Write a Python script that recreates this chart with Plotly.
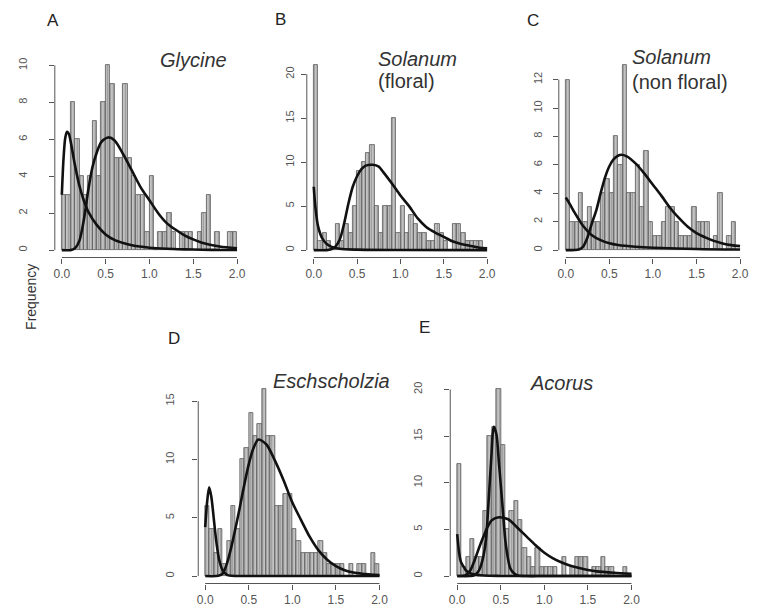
import numpy as np
import plotly.graph_objects as go

W, H = 761, 614          # target page size
OFF = 8                  # browser default body margin
FW, FH = W - OFF, H - OFF

# ---------------- data ----------------
bin_width = 0.05
n_bins = 40
x_tick_vals = [0.0, 0.5, 1.0, 1.5, 2.0]
x_tick_labels = ["0.0", "0.5", "1.0", "1.5", "2.0"]

glycine_counts = [3, 3, 8, 6, 4, 3, 4, 7, 4, 8, 10, 9, 5, 5, 9, 5, 4, 3, 3, 1,
                  4, 0, 1, 1, 2, 1, 0, 1, 1, 1, 0, 1, 2, 3, 0, 1, 0, 0, 1, 1]
solanum_floral_counts = [21, 1, 2, 1, 0, 3, 1, 3, 2, 5, 9, 10, 11, 12, 5, 2, 5, 5, 15, 2,
                         5, 2, 4, 3, 2, 2, 1, 1, 3, 2, 1, 0, 3, 3, 2, 1, 1, 1, 1, 0]
solanum_nonfloral_counts = [12, 2, 2, 4, 2, 3, 2, 2, 4, 5, 4, 8, 6, 13, 4, 4, 6, 3, 7, 2,
                            1, 1, 2, 3, 3, 2, 1, 1, 1, 3, 2, 2, 2, 0, 1, 4, 0, 1, 2, 0]
eschscholzia_counts = [6, 4, 2, 4, 1, 3, 6, 4, 10, 11, 14, 12, 13, 16, 12, 12, 6, 6, 7, 7,
                       4, 3, 2, 2, 2, 2, 3, 2, 1, 1, 1, 1, 0, 1, 0, 1, 1, 0, 2, 1]
acorus_counts = [12, 1, 2, 4, 2, 2, 7, 15, 16, 20, 14, 5, 7, 8, 6, 3, 2, 1, 3, 1,
                 1, 1, 1, 0, 2, 0, 1, 2, 2, 2, 0, 1, 1, 2, 1, 1, 0, 0, 1, 0]

# fitted density curves
glycine_c1_x = [0, 0.02, 0.04, 0.06, 0.08, 0.1, 0.15, 0.2, 0.25, 0.3, 0.4, 0.5, 0.6, 0.7, 0.8, 1.0, 1.2, 1.4, 1.6, 1.8, 2.0]
glycine_c1_y = [3.0, 5.0, 6.1, 6.4, 6.3, 5.9, 4.6, 3.5, 2.7, 2.1, 1.35, 0.85, 0.55, 0.38, 0.26, 0.13, 0.07, 0.04, 0.02, 0.01, 0.01]
glycine_c2_x = [0, 0.1, 0.15, 0.2, 0.25, 0.3, 0.35, 0.4, 0.45, 0.53, 0.6, 0.7, 0.8, 0.9, 1.0, 1.1, 1.2, 1.3, 1.4, 1.5, 1.6, 1.8, 2.0]
glycine_c2_y = [0, 0, 0.1, 0.5, 1.6, 3.2, 4.5, 5.3, 5.85, 6.1, 5.95, 5.2, 4.3, 3.4, 2.7, 2.0, 1.45, 1.1, 0.8, 0.58, 0.4, 0.2, 0.1]

floral_c1_x = [0, 0.02, 0.05, 0.1, 0.15, 0.2, 0.3, 0.5, 1.0, 2.0]
floral_c1_y = [7.2, 4.8, 2.7, 1.3, 0.7, 0.4, 0.15, 0.05, 0.01, 0]
floral_c2_x = [0, 0.15, 0.2, 0.25, 0.3, 0.35, 0.4, 0.45, 0.5, 0.55, 0.6, 0.68, 0.75, 0.8, 0.9, 1.0, 1.1, 1.2, 1.3, 1.4, 1.5, 1.6, 1.7, 1.8, 1.9, 2.0]
floral_c2_y = [0, 0, 0.1, 0.4, 1.2, 3.0, 5.3, 7.2, 8.4, 9.2, 9.6, 9.7, 9.5, 8.9, 7.6, 6.2, 5.0, 3.6, 2.6, 2.0, 1.5, 1.0, 0.7, 0.5, 0.3, 0.2]

nonfloral_c1_x = [0, 0.05, 0.1, 0.15, 0.2, 0.3, 0.4, 0.5, 0.6, 0.8, 1.0, 1.5, 2.0]
nonfloral_c1_y = [3.7, 3.2, 2.65, 2.15, 1.7, 1.05, 0.7, 0.48, 0.36, 0.24, 0.17, 0.08, 0.04]
nonfloral_c2_x = [0, 0.15, 0.2, 0.25, 0.3, 0.35, 0.4, 0.45, 0.5, 0.55, 0.62, 0.7, 0.8, 0.9, 1.0, 1.1, 1.2, 1.3, 1.4, 1.5, 1.6, 1.7, 1.8, 1.9, 2.0]
nonfloral_c2_y = [0, 0.05, 0.25, 0.9, 1.9, 2.8, 4.0, 5.1, 5.9, 6.4, 6.7, 6.6, 6.1, 5.4, 4.6, 3.8, 2.95, 2.25, 1.65, 1.2, 0.9, 0.65, 0.47, 0.35, 0.28]

esch_c1_x = [0, 0.02, 0.045, 0.07, 0.1, 0.13, 0.16, 0.2, 0.25, 0.3, 0.5, 1.0, 2.0]
esch_c1_y = [4.2, 6.2, 7.6, 6.8, 4.8, 2.8, 1.4, 0.5, 0.1, 0.02, 0, 0, 0]
esch_c2_x = [0, 0.15, 0.2, 0.25, 0.3, 0.35, 0.4, 0.45, 0.5, 0.55, 0.61, 0.7, 0.8, 0.9, 1.0, 1.1, 1.2, 1.3, 1.4, 1.5, 1.6, 1.7, 1.8, 2.0]
esch_c2_y = [0, 0.02, 0.2, 1.1, 2.5, 4.2, 6.0, 7.9, 9.6, 10.9, 11.7, 11.3, 9.9, 8.2, 6.3, 4.8, 3.35, 2.2, 1.4, 0.85, 0.5, 0.3, 0.2, 0.08]

acorus_c1_x = [0, 0.01, 0.02, 0.04, 0.06, 0.08, 0.1, 0.15, 0.2, 0.3, 0.5, 1.0, 2.0]
acorus_c1_y = [4.5, 3.5, 2.6, 1.6, 1.2, 0.9, 0.6, 0.3, 0.15, 0.05, 0.01, 0, 0]
acorus_c2_x = [0, 0.15, 0.2, 0.25, 0.29, 0.33, 0.36, 0.39, 0.42, 0.45, 0.48, 0.52, 0.55, 0.58, 0.61, 0.65, 0.7, 0.8, 1.0, 2.0]
acorus_c2_y = [0, 0, 0.1, 0.6, 1.7, 3.9, 8.0, 12.5, 16.0, 15.2, 12.0, 7.5, 4.0, 2.0, 0.8, 0.3, 0.05, 0, 0, 0]
acorus_c3_x = [0, 0.1, 0.15, 0.2, 0.25, 0.3, 0.35, 0.4, 0.48, 0.55, 0.6, 0.7, 0.8, 0.9, 1.0, 1.1, 1.2, 1.3, 1.4, 1.5, 1.6, 1.8, 2.0]
acorus_c3_y = [0, 0.1, 0.6, 1.7, 3.0, 4.2, 5.3, 6.0, 6.3, 6.2, 6.0, 5.1, 4.2, 3.3, 2.5, 1.9, 1.45, 1.1, 0.85, 0.65, 0.5, 0.35, 0.25]

panels = [
    dict(letter="A", counts=glycine_counts,
         curves=[(glycine_c1_x, glycine_c1_y), (glycine_c2_x, glycine_c2_y)],
         yticks=[0, 2, 4, 6, 8, 10], box=(54, 244, 58, 257.5), standoff=17,
         letter_pos=(52, 20)),
    dict(letter="B", counts=solanum_floral_counts,
         curves=[(floral_c1_x, floral_c1_y), (floral_c2_x, floral_c2_y)],
         yticks=[0, 5, 10, 15, 20], box=(307, 495, 58, 257.5), standoff=2,
         letter_pos=(281, 19)),
    dict(letter="C", counts=solanum_nonfloral_counts,
         curves=[(nonfloral_c1_x, nonfloral_c1_y), (nonfloral_c2_x, nonfloral_c2_y)],
         yticks=[0, 2, 4, 6, 8, 10, 12], box=(560, 749, 58, 257.5), standoff=6,
         letter_pos=(534, 20)),
    dict(letter="D", counts=eschscholzia_counts,
         curves=[(esch_c1_x, esch_c1_y), (esch_c2_x, esch_c2_y)],
         yticks=[0, 5, 10, 15], box=(198, 387, 382, 583.5), standoff=14,
         letter_pos=(174, 338)),
    dict(letter="E", counts=acorus_counts,
         curves=[(acorus_c1_x, acorus_c1_y), (acorus_c2_x, acorus_c2_y), (acorus_c3_x, acorus_c3_y)],
         yticks=[0, 5, 10, 15, 20], box=(451, 640, 382, 583.5), standoff=18,
         letter_pos=(425, 327)),
]

FONT = "Liberation Sans, Arial, sans-serif"
bin_centers = np.arange(n_bins) * bin_width + bin_width / 2


def px(x):
    return (x - OFF) / FW


def py(y):
    return 1 - (y - OFF) / FH


fig = go.Figure()
layout = dict(width=FW, height=FH, margin=dict(l=0, r=0, t=0, b=0),
              paper_bgcolor="white", plot_bgcolor="white", showlegend=False,
              bargap=0, font=dict(family=FONT, color="#333"))
shapes = []
annotations = []

for i, p in enumerate(panels):
    n = i + 1
    xa = "x" if n == 1 else f"x{n}"
    ya = "y" if n == 1 else f"y{n}"
    xkey = "xaxis" if n == 1 else f"xaxis{n}"
    ykey = "yaxis" if n == 1 else f"yaxis{n}"
    ymax = max(p["counts"])
    x0, x1, yt, yb = p["box"]

    fig.add_trace(go.Bar(
        x=bin_centers, y=p["counts"], width=bin_width, xaxis=xa, yaxis=ya,
        marker=dict(color="#c6c6c6", line=dict(color="#5a5a5a", width=0.8),
                    pattern=dict(shape="|", fgcolor="#6a6a6a", size=3, solidity=0.4)),
        hoverinfo="skip"))
    for cx, cy in p["curves"]:
        fig.add_trace(go.Scatter(x=cx, y=cy, mode="lines", xaxis=xa, yaxis=ya,
                                 line=dict(color="#111", width=2.6, shape="spline", smoothing=0.8),
                                 hoverinfo="skip"))

    layout[xkey] = dict(domain=[px(x0), px(x1)], anchor=ya, range=[-0.08, 2.08],
                        tickvals=x_tick_vals, ticktext=x_tick_labels, ticks="outside",
                        ticklen=5, tickcolor="#555", tickwidth=1, showline=False,
                        showgrid=False, zeroline=False,
                        tickfont=dict(size=12, color="#555", family=FONT))
    layout[ykey] = dict(domain=[py(yb), py(yt)], anchor=xa,
                        range=[-0.04 * ymax, 1.04 * ymax],
                        tickvals=p["yticks"], ticktext=[str(v) for v in p["yticks"]],
                        ticks="outside", ticklen=5, tickcolor="#555", tickwidth=1,
                        tickangle=-90, ticklabelstandoff=p["standoff"],
                        showline=False, showgrid=False, zeroline=False,
                        tickfont=dict(size=11, color="#555", family=FONT))
    # R-style axis lines spanning first..last tick
    shapes.append(dict(type="line", xref=xa, yref=f"{ya} domain", x0=x_tick_vals[0],
                       x1=x_tick_vals[-1], y0=0, y1=0, line=dict(color="#555", width=1)))
    shapes.append(dict(type="line", xref=f"{xa} domain", yref=ya, x0=0, x1=0,
                       y0=p["yticks"][0], y1=p["yticks"][-1], line=dict(color="#555", width=1)))
    lx, ly = p["letter_pos"]
    annotations.append(dict(text=p["letter"], x=px(lx), y=py(ly), xref="paper", yref="paper",
                            showarrow=False, xanchor="center", yanchor="middle",
                            font=dict(size=17, color="#222", family=FONT)))


def label(text, x, y, anchor="center", italic=True):
    t = f"<i>{text}</i>" if italic else text
    annotations.append(dict(text=t, x=px(x), y=py(y), xref="paper", yref="paper",
                            showarrow=False, xanchor=anchor, yanchor="middle",
                            font=dict(size=20, color="#333", family=FONT)))


label("Glycine", 193, 60)
label("Solanum", 376, 59, anchor="left")
label("(floral)", 376, 81, anchor="left", italic=False)
label("Solanum", 631, 57, anchor="left")
label("(non floral)", 631, 82, anchor="left", italic=False)
label("Eschscholzia", 332, 381)
label("Acorus", 563, 383)

annotations.append(dict(text="Frequency", x=px(30), y=py(297), xref="paper", yref="paper",
                        showarrow=False, textangle=-90, xanchor="center", yanchor="middle",
                        font=dict(size=14, color="#333", family=FONT)))

layout["shapes"] = shapes
layout["annotations"] = annotations
fig.update_layout(**layout)
fig.write_html("out.html")
